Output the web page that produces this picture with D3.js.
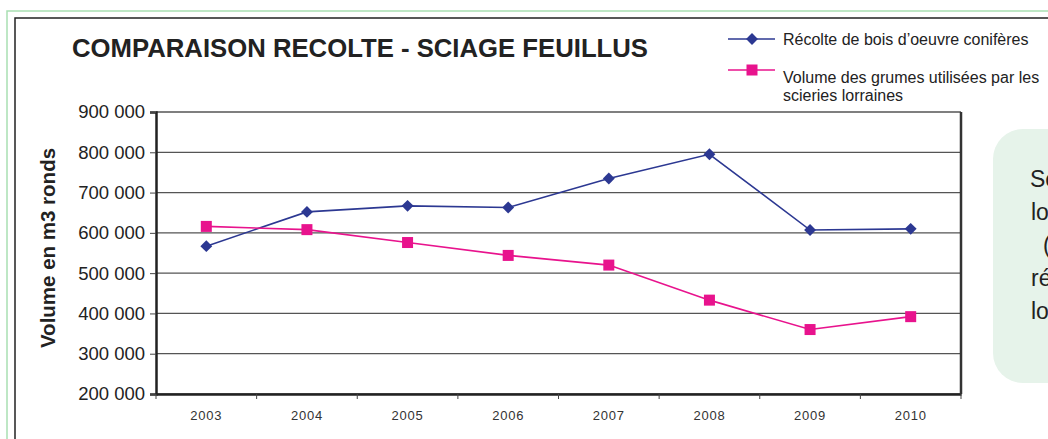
<!DOCTYPE html>
<html>
<head>
<meta charset="utf-8">
<title>Comparaison recolte - sciage feuillus</title>
<script src="https://cdn.jsdelivr.net/npm/d3@7"></script>
<style>
  body { margin: 0; background: #fff; }
  svg { display: block; font-family: "Liberation Sans", Arial, sans-serif; }
</style>
</head>
<body>
<svg id="main" width="1048" height="439"></svg>
<script>
// data
var years = ["2003", "2004", "2005", "2006", "2007", "2008", "2009", "2010"];
var recolte = [567000, 652000, 667000, 663000, 735000, 795000, 607000, 610000];
var grumes = [616000, 608000, 576000, 544000, 520000, 433000, 360000, 392000];
var yTicks = [200000, 300000, 400000, 500000, 600000, 700000, 800000, 900000];
var legendLabels = [["Récolte de bois d\u2019oeuvre conifères"],
                    ["Volume des grumes utilisées par les", "scieries lorraines"]];
var sideText = ["Sciages", "lorrains", "(", "récolte", "lorraine"];

var svg = d3.select("#main");

// outer frames
svg.append("path").attr("d", "M7,439 V11 H1048")
  .attr("fill", "none").attr("stroke", "#a9dfb3").attr("stroke-width", 1.5);
svg.append("path").attr("d", "M15,439 V18 H1048")
  .attr("fill", "none").attr("stroke", "#222").attr("stroke-width", 1.5);

// side note box (cut by the page edge, as in the original)
svg.append("rect").attr("x", 993).attr("y", 129).attr("width", 120).attr("height", 254)
  .attr("rx", 30).attr("fill", "#e6f3ea");
var sideX = [1030, 1031, 1043, 1031, 1031];
svg.append("g").selectAll("text").data(sideText).enter().append("text")
  .attr("x", function(d, i) { return sideX[i]; })
  .attr("y", function(d, i) { return 187 + i * 33; })
  .attr("font-size", 23).attr("fill", "#222")
  .text(function(d) { return d; });

// title
svg.append("text").attr("x", 72).attr("y", 57)
  .attr("font-size", 26).attr("font-weight", "bold").attr("fill", "#222")
  .attr("textLength", 576).attr("lengthAdjust", "spacingAndGlyphs")
  .text("COMPARAISON RECOLTE - SCIAGE FEUILLUS");

// scales
var pLeft = 156, pRight = 961, pTop = 112, pBottom = 394;
var x = d3.scaleBand().domain(years).range([pLeft, pRight]);
var y = d3.scaleLinear().domain([200000, 900000]).range([pBottom, pTop]);
var fmt = function(v) { return d3.format(",")(v).replace(/,/g, " "); };

// gridlines
svg.append("g").selectAll("line").data(yTicks).enter().append("line")
  .attr("x1", pLeft).attr("x2", pRight)
  .attr("y1", function(d) { return y(d); }).attr("y2", function(d) { return y(d); })
  .attr("stroke", "#555").attr("stroke-width", 1.3);

// y axis
var yAxis = svg.append("g").attr("transform", "translate(" + pLeft + ",0)")
  .call(d3.axisLeft(y).tickValues(yTicks).tickFormat(fmt).tickSize(6).tickPadding(5));
yAxis.select(".domain").attr("stroke", "#222").attr("stroke-width", 2.5);
yAxis.selectAll(".tick line").attr("stroke", "#444");
yAxis.selectAll("text").attr("font-size", 18.5).attr("fill", "#222")
  .attr("font-family", "Liberation Sans, Arial, sans-serif");

// x axis with ticks between categories
var xAxis = svg.append("g").attr("transform", "translate(0," + pBottom + ")")
  .call(d3.axisBottom(x).tickSize(0).tickPadding(17));
xAxis.select(".domain").attr("stroke", "#222").attr("stroke-width", 2.5);
xAxis.selectAll("text").attr("font-size", 13).attr("fill", "#333")
  .attr("letter-spacing", "0.8px")
  .attr("font-family", "Liberation Sans, Arial, sans-serif");
var bounds = years.map(function(d) { return x(d); }).concat([pRight]);
svg.append("g").selectAll("line").data(bounds).enter().append("line")
  .attr("x1", function(d) { return d; }).attr("x2", function(d) { return d; })
  .attr("y1", pBottom).attr("y2", pBottom + 5)
  .attr("stroke", "#444").attr("stroke-width", 1);

// right border
svg.append("line").attr("x1", pRight).attr("x2", pRight).attr("y1", pTop).attr("y2", pBottom)
  .attr("stroke", "#333").attr("stroke-width", 2.5);

// y label
svg.append("text")
  .attr("transform", "translate(55,248) rotate(-90)")
  .attr("text-anchor", "middle").attr("font-size", 20.5).attr("font-weight", "bold")
  .attr("fill", "#222").text("Volume en m3 ronds");

// series
var cx = function(d, i) { return x(years[i]) + x.bandwidth() / 2; };
var line = d3.line().x(cx).y(function(d) { return y(d); });
var blue = "#2c3892", pink = "#e8138d";

svg.append("path").datum(recolte).attr("d", line)
  .attr("fill", "none").attr("stroke", blue).attr("stroke-width", 1.6);
svg.append("path").datum(grumes).attr("d", line)
  .attr("fill", "none").attr("stroke", pink).attr("stroke-width", 1.6);

var diamond = d3.symbol().type(d3.symbolDiamond2).size(90);
svg.append("g").selectAll("path").data(recolte).enter().append("path")
  .attr("d", diamond)
  .attr("transform", function(d, i) { return "translate(" + cx(d, i) + "," + y(d) + ")"; })
  .attr("fill", blue);
svg.append("g").selectAll("rect").data(grumes).enter().append("rect")
  .attr("x", function(d, i) { return cx(d, i) - 5.5; })
  .attr("y", function(d) { return y(d) - 5.5; })
  .attr("width", 11).attr("height", 11).attr("fill", pink);

// legend
var lg = svg.append("g");
var legY = [39, 70];
var legColors = [blue, pink];
legendLabels.forEach(function(lines, k) {
  lg.append("line").attr("x1", 728).attr("x2", 775).attr("y1", legY[k]).attr("y2", legY[k])
    .attr("stroke", legColors[k]).attr("stroke-width", 1.6);
  if (k == 0) {
    lg.append("path").attr("d", diamond)
      .attr("transform", "translate(752," + legY[k] + ")").attr("fill", blue);
  } else {
    lg.append("rect").attr("x", 746.5).attr("y", legY[k] - 5.5)
      .attr("width", 11).attr("height", 11).attr("fill", pink);
  }
  lines.forEach(function(t, j) {
    lg.append("text").attr("x", 783).attr("y", (k == 0 ? 45 : 83) + j * 18)
      .attr("font-size", 16).attr("fill", "#222").text(t);
  });
});
</script>
</body>
</html>
